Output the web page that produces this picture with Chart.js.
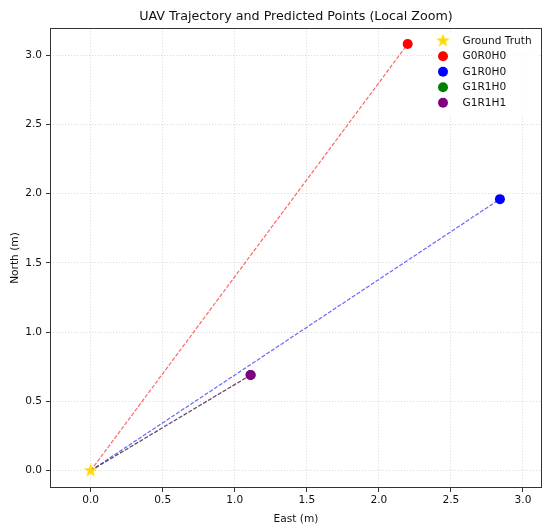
<!DOCTYPE html>
<html>
<head>
<meta charset="utf-8">
<title>UAV Trajectory and Predicted Points</title>
<script src="https://cdn.jsdelivr.net/npm/chart.js@4.4.1/dist/chart.umd.min.js"></script>
<style>
  html, body { margin: 0; padding: 0; background: #ffffff; }
  #uavChart { display: block; }
</style>
</head>
<body>
<canvas id="uavChart" width="550" height="526"></canvas>
<script>
// Points: ground truth at the origin, predictions per method
let seriesNames = ["Ground Truth", "G0R0H0", "G1R0H0", "G1R1H0", "G1R1H1"];
let eastValues = [0.00, 2.20, 2.84, 1.11, 1.11];
let northValues = [0.00, 3.08, 1.96, 0.69, 0.69];
let xTickValues = [0, 0.5, 1, 1.5, 2, 2.5, 3];
let yTickValues = [0, 0.5, 1, 1.5, 2, 2.5, 3];

let pointColors = ["#FFD700", "#FF0000", "#0000FF", "#008000", "#800080"];
let lineColors = [null, "rgba(255,0,0,0.6)", "rgba(0,0,255,0.6)", "rgba(0,128,0,0.6)", "rgba(128,0,128,0.6)"];

let fontFamily = "'DejaVu Sans', sans-serif";
let textColor = "#111111";

// filled five point star, Chart.js 'star' is only an asterisk
function makeStar(r, color) {
  let size = Math.ceil(r * 2 + 2);
  let c = document.createElement("canvas");
  c.width = size;
  c.height = size;
  let g = c.getContext("2d");
  g.fillStyle = color;
  g.beginPath();
  for (let i = 0; i < 10; i++) {
    let rad = i % 2 === 0 ? r : r * 0.382;
    let a = -Math.PI / 2 + i * Math.PI / 5;
    let px = size / 2 + rad * Math.cos(a);
    let py = size / 2 + rad * Math.sin(a);
    if (i === 0) g.moveTo(px, py); else g.lineTo(px, py);
  }
  g.closePath();
  g.fill();
  return c;
}
let starImg = makeStar(7.3, pointColors[0]);

// draw order: lower "order" ends up on top
let pointOrder = [0, 4, 3, 2, 1];
let datasets = [];
for (let i = 0; i < seriesNames.length; i++) {
  datasets.push({
    label: seriesNames[i],
    data: [{ x: eastValues[i], y: northValues[i] }],
    pointStyle: i === 0 ? starImg : "circle",
    pointRadius: 5,
    pointBackgroundColor: pointColors[i],
    pointBorderWidth: 0,
    showLine: false,
    order: pointOrder[i],
    legendIndex: i
  });
}
// dashed line from the ground truth to each prediction
for (let i = 1; i < seriesNames.length; i++) {
  datasets.push({
    label: seriesNames[i] + " line",
    data: [{ x: eastValues[0], y: northValues[0] }, { x: eastValues[i], y: northValues[i] }],
    showLine: true,
    borderColor: lineColors[i],
    borderWidth: 1.2,
    borderDash: [4, 1.7],
    pointRadius: 0,
    order: 10 - i
  });
}

// full frame round the plot area
let framePlugin = {
  id: "frame",
  afterDatasetsDraw(chart) {
    let ctx = chart.ctx, a = chart.chartArea;
    ctx.save();
    ctx.strokeStyle = "#333333";
    ctx.lineWidth = 1;
    let l = Math.round(a.left) + 0.5, t = Math.round(a.top) + 0.5;
    let r = Math.round(a.right) - 0.5, b = Math.round(a.bottom) - 0.5;
    ctx.strokeRect(l, t, r - l, b - t);
    ctx.restore();
  }
};

// legend drawn inside the plot, upper right (matplotlib style)
let legendPlugin = {
  id: "innerLegend",
  afterDraw(chart) {
    let ctx = chart.ctx, a = chart.chartArea;
    let items = chart.data.datasets.filter(d => d.legendIndex !== undefined)
      .sort((p, q) => p.legendIndex - q.legendIndex);
    let markerX = a.right - 99;
    let textX = a.right - 79.5;
    let rowY = a.top + 12.7;
    let step = 15.5;
    ctx.save();
    ctx.fillStyle = "rgba(255,255,255,0.8)";
    ctx.fillRect(markerX - 11, a.top + 4, a.right - 4 - (markerX - 11), step * items.length + 6);
    ctx.font = "10.6px " + fontFamily;
    ctx.textBaseline = "middle";
    items.forEach((d, i) => {
      let y = rowY + i * step;
      if (d.pointStyle !== "circle") {
        ctx.drawImage(d.pointStyle, markerX - d.pointStyle.width / 2, y - d.pointStyle.height / 2);
      } else {
        ctx.fillStyle = d.pointBackgroundColor;
        ctx.beginPath();
        ctx.arc(markerX, y, d.pointRadius, 0, Math.PI * 2);
        ctx.fill();
      }
      ctx.fillStyle = textColor;
      ctx.fillText(d.label, textX, y + 0.5);
    });
    ctx.restore();
  }
};

let gridOpts = {
  color: "#d6d6d6",
  lineWidth: 0.8,
  tickLength: 4,
  tickColor: "#333333",
  tickWidth: 1
};

let ctx = document.getElementById("uavChart").getContext("2d");
let uavChart = new Chart(ctx, {
  type: "scatter",
  data: { datasets: datasets },
  plugins: [framePlugin, legendPlugin],
  options: {
    responsive: false,
    animation: false,
    events: [],
    layout: { padding: { left: 8.5, right: 8, top: 0, bottom: 0 } },
    plugins: {
      legend: { display: false },
      tooltip: { enabled: false },
      title: {
        display: true,
        text: "UAV Trajectory and Predicted Points (Local Zoom)",
        fullSize: false,
        color: textColor,
        font: { family: fontFamily, size: 12.7, weight: "normal", lineHeight: 1.2 },
        padding: { top: 9.4, bottom: 3.4 }
      }
    },
    scales: {
      x: {
        type: "linear",
        min: -0.282,
        max: 3.132,
        afterBuildTicks: s => { s.ticks = xTickValues.map(v => ({ value: v })); },
        afterFit: s => { s.height = 38; },
        grid: gridOpts,
        border: { display: false, dash: [1.2, 1.8] },
        ticks: {
          color: textColor,
          padding: 2,
          maxRotation: 0,
          font: { family: fontFamily, size: 10.6 },
          callback: v => Number(v).toFixed(1)
        },
        title: {
          display: true,
          text: "East (m)",
          color: textColor,
          font: { family: fontFamily, size: 10.6, lineHeight: 1.2 },
          padding: { top: 0, bottom: 0 }
        }
      },
      y: {
        type: "linear",
        min: -0.125,
        max: 3.195,
        afterBuildTicks: s => { s.ticks = yTickValues.map(v => ({ value: v })); },
        afterFit: s => { s.width = 41.5; },
        grid: gridOpts,
        border: { display: false, dash: [1.2, 1.8] },
        ticks: {
          color: textColor,
          padding: 4,
          font: { family: fontFamily, size: 10.6 },
          callback: v => Number(v).toFixed(1)
        },
        title: {
          display: true,
          text: "North (m)",
          color: textColor,
          font: { family: fontFamily, size: 10.6, lineHeight: 1.2 },
          padding: { top: 0, bottom: 0 }
        }
      }
    }
  }
});
</script>
</body>
</html>
